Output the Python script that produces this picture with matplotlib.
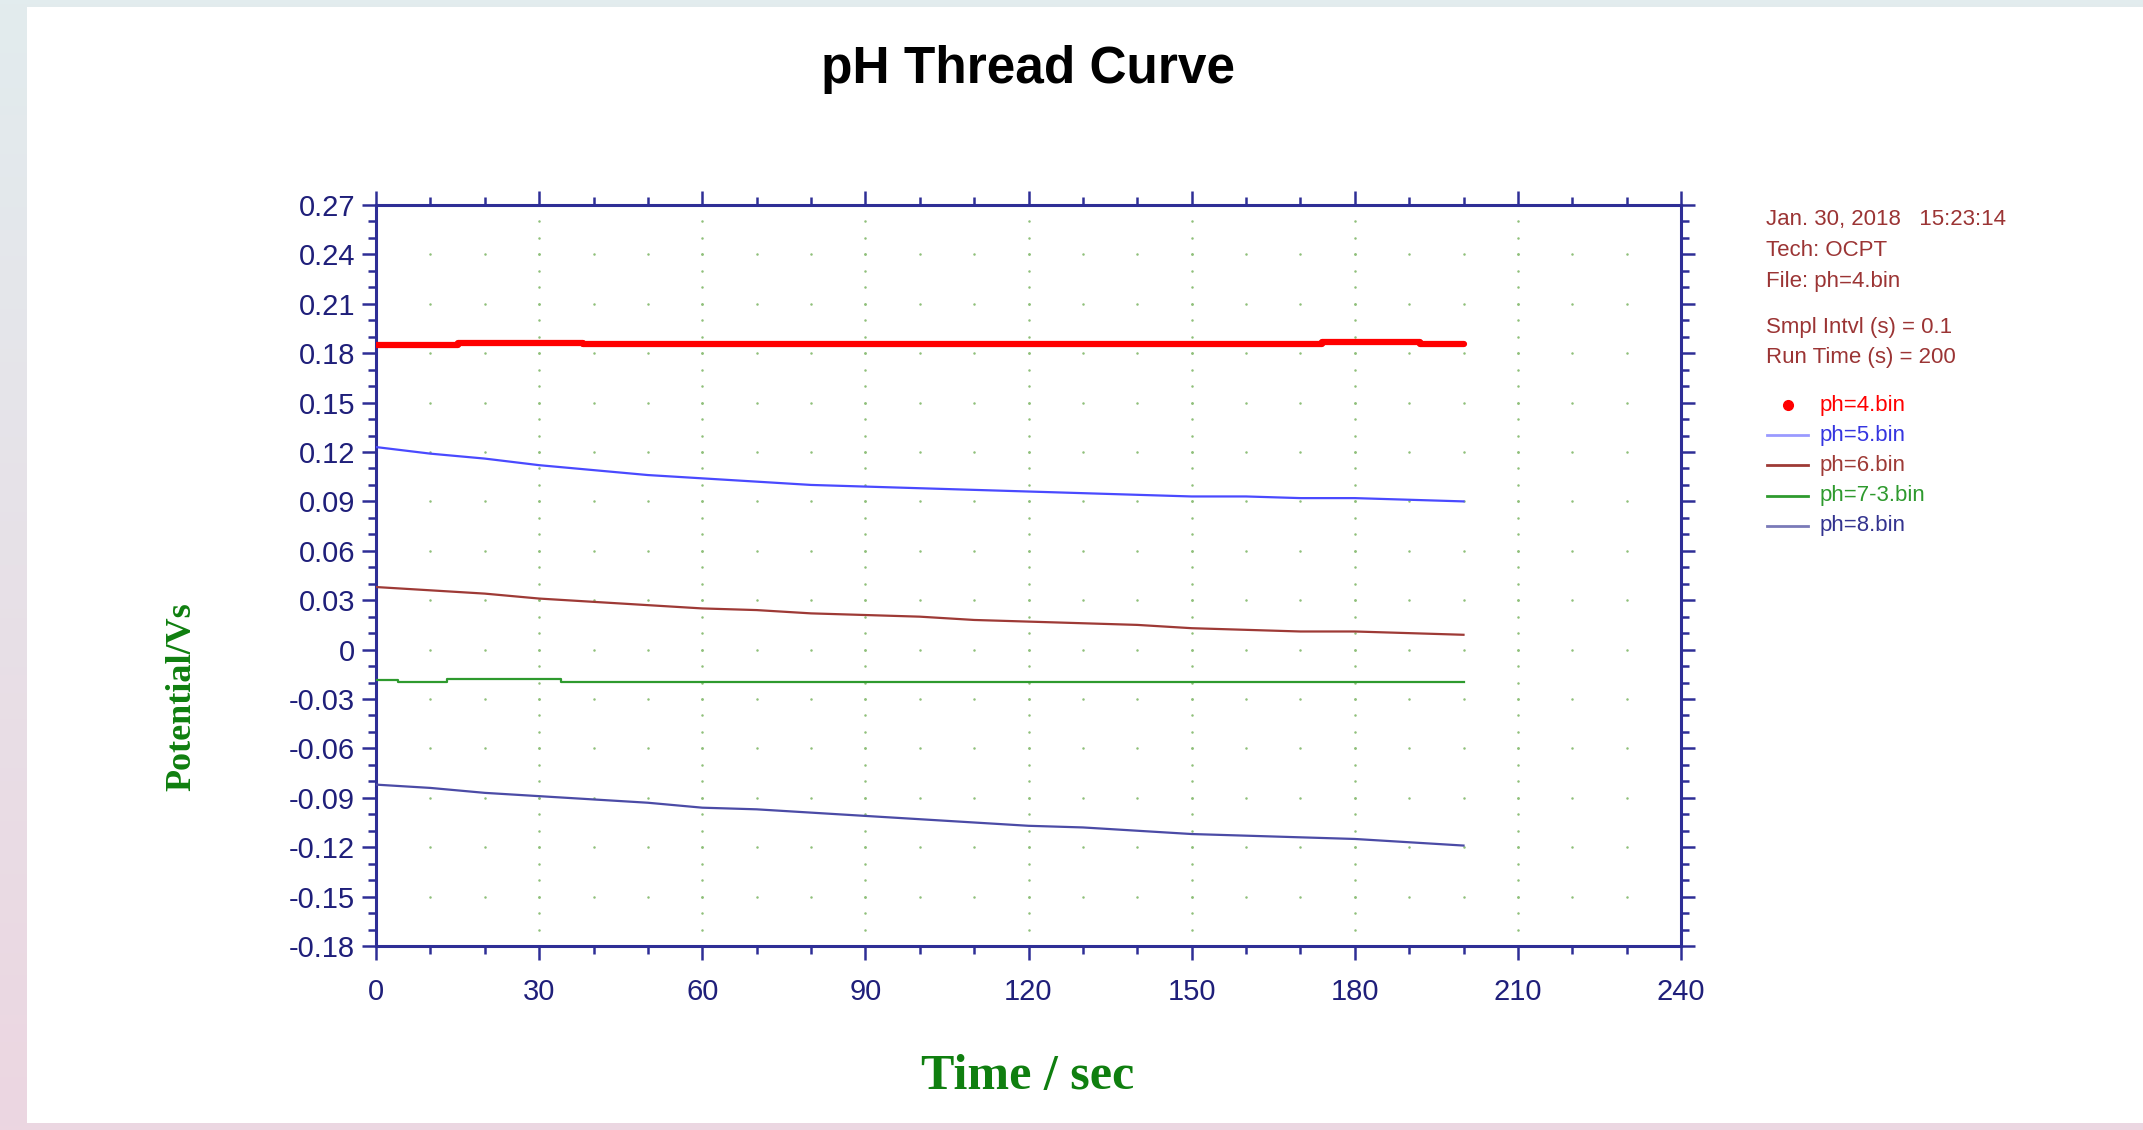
import numpy as np
import matplotlib
matplotlib.use("Agg")
import matplotlib.pyplot as plt
from matplotlib.lines import Line2D
from matplotlib.patches import Rectangle
from matplotlib.ticker import MultipleLocator, FixedLocator

# ---------------- data ----------------
t_grid = [0, 10, 20, 30, 40, 50, 60, 70, 80, 90, 100, 110, 120, 130, 140, 150, 160, 170, 180, 190, 200]

t_ph4 = [0, 15, 38, 174, 192, 200]
v_ph4 = [0.1850, 0.1860, 0.1855, 0.1868, 0.1858, 0.1858]

v_ph5 = [0.123, 0.119, 0.116, 0.112, 0.109, 0.106, 0.104, 0.102, 0.100, 0.099, 0.098,
         0.097, 0.096, 0.095, 0.094, 0.093, 0.093, 0.092, 0.092, 0.091, 0.090]

v_ph6 = [0.038, 0.036, 0.034, 0.031, 0.029, 0.027, 0.025, 0.024, 0.022, 0.021, 0.020,
         0.018, 0.017, 0.016, 0.015, 0.013, 0.012, 0.011, 0.011, 0.010, 0.009]

t_ph7 = [0, 4, 13, 34, 200]
v_ph7 = [-0.0185, -0.0198, -0.0180, -0.0197, -0.0197]

v_ph8 = [-0.082, -0.084, -0.087, -0.089, -0.091, -0.093, -0.096, -0.097, -0.099, -0.101, -0.103,
         -0.105, -0.107, -0.108, -0.110, -0.112, -0.113, -0.114, -0.115, -0.117, -0.119]

series_labels = ["ph=4.bin", "ph=5.bin", "ph=6.bin", "ph=7-3.bin", "ph=8.bin"]
info_lines = ["Jan. 30, 2018   15:23:14", "Tech: OCPT", "File: ph=4.bin",
              "Smpl Intvl (s) = 0.1", "Run Time (s) = 200"]

x_major = [0, 30, 60, 90, 120, 150, 180, 210, 240]
y_major = [0.27, 0.24, 0.21, 0.18, 0.15, 0.12, 0.09, 0.06, 0.03, 0, -0.03, -0.06, -0.09, -0.12, -0.15, -0.18]
y_labels = ["0.27", "0.24", "0.21", "0.18", "0.15", "0.12", "0.09", "0.06", "0.03", "0",
            "-0.03", "-0.06", "-0.09", "-0.12", "-0.15", "-0.18"]

# ---------------- style ----------------
c_axis = "#2e2e96"
c_tick = "#1f1f7a"
c_ph4 = "#ff0000"
c_ph5 = "#4a4aff"
c_ph6 = "#9e3a36"
c_ph7 = "#2e9a2e"
c_ph8 = "#4b4ba6"
c_info = "#9b3434"
c_green_lab = "#0f7f0f"
c_dot = "#8fc07a"

W, H = 2143, 1130
fig = plt.figure(figsize=(W / 100, H / 100), dpi=100)

# background gradient
bg = fig.add_axes([0, 0, 1, 1], zorder=-10)
top = np.array([0xe2, 0xec, 0xee]) / 255
bot = np.array([0xec, 0xd6, 0xe1]) / 255
g = np.linspace(0, 1, 256)[:, None]
grad = top[None, :] * (1 - g) + bot[None, :] * g
bg.imshow(grad[:, None, :].repeat(4, axis=1), aspect="auto", extent=[0, 1, 0, 1])
bg.set_xlim(0, 1); bg.set_ylim(0, 1)
bg.axis("off")
bg.add_patch(Rectangle((27 / W, 1 - 1123 / H), 1 - 27 / W, (1123 - 7) / H,
                       facecolor="white", edgecolor="none"))

ax = fig.add_axes([376 / W, 1 - 946 / H, (1681 - 376) / W, (946 - 205) / H])
ax.set_facecolor("white")
ax.set_xlim(0, 240)
ax.set_ylim(-0.18, 0.27)

# grid dots
xm = np.arange(10, 240, 10)
ym = np.array(y_major)
gx1, gy1 = np.meshgrid(xm, ym)
xM = np.array(x_major[1:-1])
yminor = np.round(np.arange(-0.17, 0.27, 0.01), 3)
gx2, gy2 = np.meshgrid(xM, yminor)
ax.plot(np.concatenate([gx1.ravel(), gx2.ravel()]), np.concatenate([gy1.ravel(), gy2.ravel()]),
        linestyle="none", marker="o", markersize=1.8, color=c_dot, markeredgewidth=0, zorder=1)

ax.plot(t_ph4, v_ph4, color=c_ph4, lw=4.5, drawstyle="steps-post", solid_capstyle="round", zorder=5)
ax.plot(t_grid, v_ph5, color=c_ph5, lw=1.6, zorder=4)
ax.plot(t_grid, v_ph6, color=c_ph6, lw=1.6, zorder=4)
ax.plot(t_ph7, v_ph7, color=c_ph7, lw=1.6, drawstyle="steps-post", zorder=4)
ax.plot(t_grid, v_ph8, color=c_ph8, lw=1.6, zorder=4)

for s in ax.spines.values():
    s.set_color(c_axis)
    s.set_linewidth(2.2)

ax.set_xticks(x_major)
ax.set_xticklabels([str(v) for v in x_major])
ax.xaxis.set_minor_locator(MultipleLocator(10))
ax.set_yticks(y_major)
ax.set_yticklabels(y_labels)
ax.yaxis.set_minor_locator(MultipleLocator(0.01))

ax.tick_params(which="both", direction="out", top=True, right=True, color=c_axis,
               labelcolor=c_tick, labelsize=21, width=1.8)
ax.tick_params(which="major", length=10)
ax.tick_params(axis="x", which="major", pad=13)
ax.tick_params(axis="y", which="major", pad=5)
ax.tick_params(which="minor", length=5.5)
for lab in ax.get_xticklabels() + ax.get_yticklabels():
    lab.set_family(["Liberation Sans", "DejaVu Sans"])

fig.text(1028 / W, 1 - 70 / H, "pH Thread Curve", ha="center", va="center",
         fontsize=37, fontweight="bold", family=["Liberation Sans", "DejaVu Sans"], color="black")
fig.text(1028 / W, 1 - 1077 / H, "Time / sec", ha="center", va="center",
         fontsize=36, fontweight="bold", family=["Liberation Serif", "DejaVu Serif"], color=c_green_lab)
fig.text(182 / W, 1 - 697 / H, "Potential/Vs", ha="center", va="center", rotation=90,
         fontsize=26, fontweight="bold", family=["Liberation Serif", "DejaVu Serif"], color=c_green_lab)

# info block
info_y = [219, 251, 282, 327, 358]
for txt, yy in zip(info_lines, info_y):
    fig.text(1766 / W, 1 - yy / H, txt, ha="left", va="center", fontsize=16,
             family=["Liberation Sans", "DejaVu Sans"], color=c_info)

# legend
leg_y = [405, 435, 465, 496, 526]
leg_text_colors = [c_ph4, "#3535e0", c_ph6, c_ph7, "#33338f"]
leg_line_colors = [c_ph4, "#9a9aff", c_ph6, c_ph7, "#7a7ab8"]
for i, (lab, yy) in enumerate(zip(series_labels, leg_y)):
    yf = 1 - yy / H
    if i == 0:
        fig.add_artist(Line2D([1788 / W], [yf], marker="o", markersize=7, color=c_ph4,
                              linestyle="none", transform=fig.transFigure))
    else:
        fig.add_artist(Line2D([1767 / W, 1808 / W], [yf, yf], color=leg_line_colors[i], lw=2,
                              transform=fig.transFigure))
    fig.text(1820 / W, yf, lab, ha="left", va="center", fontsize=16,
             family=["Liberation Sans", "DejaVu Sans"], color=leg_text_colors[i])

fig.savefig("out.png", dpi=100)
